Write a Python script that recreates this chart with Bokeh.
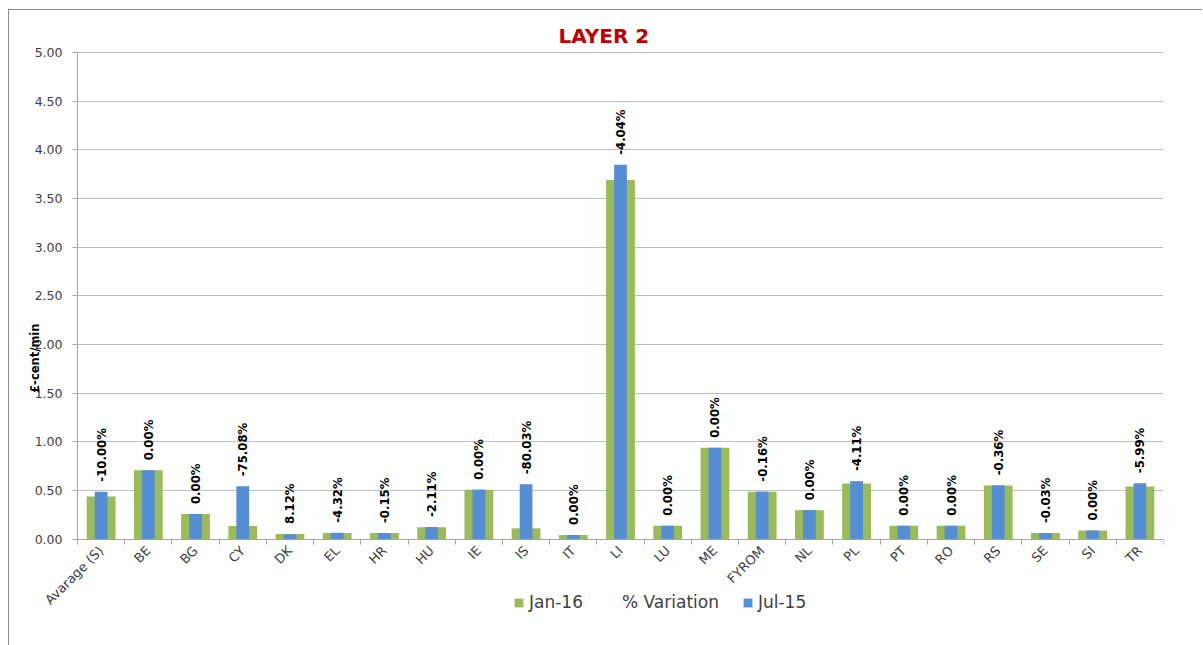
import math
from bokeh.plotting import figure
from bokeh.models import (ColumnDataSource, FixedTicker, NumeralTickFormatter, Legend,
                          LegendItem, Range1d, Label)
from bokeh.core.properties import value
from bokeh.embed import file_html
from bokeh.resources import INLINE

categories = ["Avarage (S)", "BE", "BG", "CY", "DK", "EL", "HR", "HU", "IE", "IS", "IT",
              "LI", "LU", "ME", "FYROM", "NL", "PL", "PT", "RO", "RS", "SE", "SI", "TR"]
jan16 = [0.44, 0.71, 0.26, 0.136, 0.055, 0.065, 0.065, 0.124, 0.51, 0.113, 0.045,
         3.69, 0.14, 0.94, 0.49, 0.30, 0.573, 0.14, 0.14, 0.553, 0.065, 0.09, 0.542]
jul15 = [0.49, 0.71, 0.26, 0.545, 0.051, 0.068, 0.065, 0.127, 0.51, 0.566, 0.045,
         3.845, 0.14, 0.94, 0.49, 0.30, 0.598, 0.14, 0.14, 0.555, 0.065, 0.09, 0.577]
variation = ["-10.00%", "0.00%", "0.00%", "-75.08%", "8.12%", "-4.32%", "-0.15%", "-2.11%",
             "0.00%", "-80.03%", "0.00%", "-4.04%", "0.00%", "0.00%", "-0.16%", "0.00%",
             "-4.11%", "0.00%", "0.00%", "-0.36%", "-0.03%", "0.00%", "-5.99%"]
y_ticks = [0.0, 0.5, 1.0, 1.5, 2.0, 2.5, 3.0, 3.5, 4.0, 4.5, 5.0]

GREEN = "#9BBB59"
BLUE = "#558ED5"
TXT = "#404040"

n = len(categories)
idx = list(range(n))
src = ColumnDataSource(dict(
    x=idx, jan=jan16, jul=jul15, lab=variation,
    top=[max(a, b) for a, b in zip(jan16, jul15)],
))

# The frame spans the whole lower-left area so that axis labels, the legend and
# the value-axis title are all drawn inside it; the axes sit at fixed locations.
p = figure(width=1194, height=636, output_backend="svg", toolbar_location=None,
           x_range=Range1d(-1.94, n - 0.5), y_range=Range1d(-1.1, 5.05),
           min_border_left=0, min_border_right=40, min_border_top=37, min_border_bottom=0)
p.margin = (9, 0, 0, 8)
p.styles = {"border-top": "1px solid #8c8c8c", "border-left": "1px solid #8c8c8c"}
p.outline_line_color = None
p.background_fill_color = "white"
p.border_fill_color = "white"

g = p.vbar(x="x", top="jan", width=0.61, source=src, fill_color=GREEN, line_color=None)
b = p.vbar(x="x", top="jul", width=0.27, source=src, fill_color=BLUE, line_color=None)
t = p.text(x="x", y="top", text="lab", source=src, angle=math.pi / 2,
           text_align="left", text_baseline="middle", y_offset=-10,
           text_font=value("DejaVu Sans Condensed"), text_font_style="bold",
           text_font_size="13px", text_color="black")

# x axis, drawn at value 0
p.xaxis.fixed_location = 0
p.xaxis.bounds = (-0.5, n - 0.5)
p.xaxis.ticker = FixedTicker(ticks=idx, minor_ticks=[i - 0.5 for i in range(n + 1)])
p.xaxis.major_label_overrides = {i: c for i, c in enumerate(categories)}
p.xaxis.major_label_orientation = math.pi / 4
p.xaxis.major_tick_line_color = None
p.xaxis.minor_tick_line_color = "#a6a6a6"
p.xaxis.minor_tick_out = 5
p.xaxis.minor_tick_in = 0
p.xaxis.axis_line_color = "#a6a6a6"
p.xaxis.major_label_text_font = "DejaVu Sans"
p.xaxis.major_label_text_font_size = "13px"
p.xaxis.major_label_text_color = TXT
p.xaxis.major_label_standoff = 3
p.xgrid.grid_line_color = None

# y axis, drawn at the left edge of the first category
p.yaxis.fixed_location = -0.5
p.yaxis.bounds = (0, 5)
p.yaxis.ticker = FixedTicker(ticks=y_ticks)
p.yaxis.formatter = NumeralTickFormatter(format="0.00")
p.yaxis.major_tick_out = 5
p.yaxis.major_tick_in = 0
p.yaxis.major_tick_line_color = "#a6a6a6"
p.yaxis.minor_tick_line_color = None
p.yaxis.axis_line_color = "#a6a6a6"
p.yaxis.major_label_text_font = "DejaVu Sans"
p.yaxis.major_label_text_font_size = "12.5px"
p.yaxis.major_label_text_color = TXT
p.yaxis.major_label_standoff = 10
p.ygrid.grid_line_color = "#bfbfbf"
p.ygrid.ticker = FixedTicker(ticks=y_ticks)
p.ygrid.cross_bounds = (-0.5, n - 0.5)

p.add_layout(Label(x=-1.4, y=1.86, text="£-cent/min", angle=math.pi / 2,
                   text_align="center", text_baseline="middle",
                   text_font="DejaVu Sans", text_font_style="bold",
                   text_font_size="11.5px", text_color="black"))

# title
p.title.text = "LAYER 2"
p.title.text_font = "DejaVu Sans"
p.title.text_font_style = "bold"
p.title.text_font_size = "20px"
p.title.text_color = "#C00000"
p.title.align = "left"
p.title.offset = 549
p.title.standoff = 0

legend = Legend(items=[LegendItem(label="Jan-16", renderers=[g]),
                       LegendItem(label="% Variation", renderers=[t]),
                       LegendItem(label="Jul-15", renderers=[b])],
                orientation="horizontal", location=(504, 34),
                glyph_width=11, glyph_height=11, label_standoff=5, spacing=23,
                padding=0, margin=0, border_line_color=None, background_fill_alpha=0,
                label_text_font="DejaVu Sans", label_text_font_size="17px",
                label_text_color=TXT)
p.add_layout(legend, "center")

open("out.html", "w").write(file_html(p, INLINE))
